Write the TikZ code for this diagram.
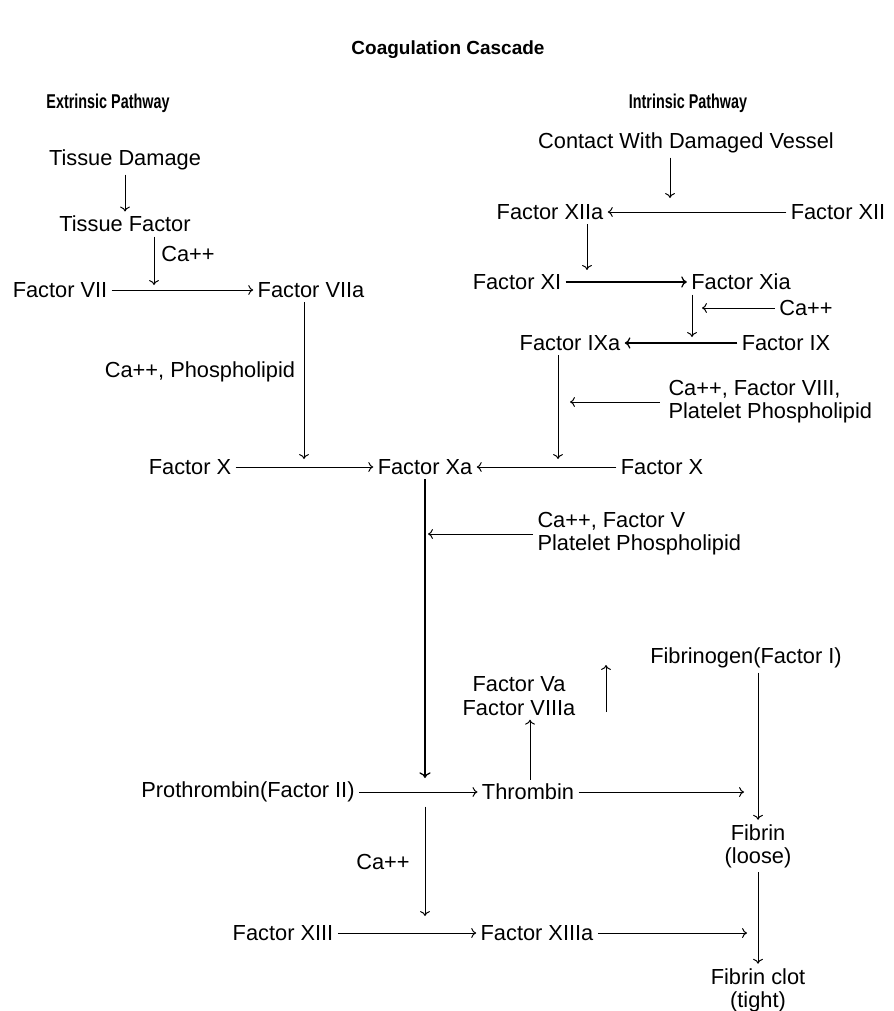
\documentclass[tikz,border=0pt]{standalone}
\usepackage{fontspec}
\setmainfont{Liberation Sans}
\newfontfamily\headfont{Liberation Sans}[FakeStretch=0.72]
\usetikzlibrary{arrows.meta}

\tikzset{
  fac/.style={font=\fontsize{15.5}{16.5}\selectfont, inner sep=3pt, align=center},
  head/.style={font=\headfont\bfseries\fontsize{14.2}{17}\selectfont},
  ar/.style={-{To[length=3.5pt, width=7pt]}, line width=0.7pt},
  thk/.style={-{To[length=4pt, width=8pt, line width=0.9pt]}, line width=1.8pt},
}

\begin{document}
\begin{tikzpicture}[x=0.025cm, y=-0.025cm]
\useasboundingbox (0,0) rectangle (893,1011);

% 标题
\node[font=\bfseries\fontsize{13.5}{16}\selectfont] (title) at (448,50) {Coagulation Cascade};
\node[head] (ext) at (108,103) {Extrinsic Pathway};
\node[head] (int) at (688,103) {Intrinsic Pathway};

% 外源性途径
\node[fac] (td) at (125,160) {Tissue Damage};
\node[fac] (tf) at (125,224) {Tissue Factor};
\node[fac] (ca1) at (188,254) {Ca++};
\node[fac] (f7) at (60,290) {Factor VII};
\node[fac] (f7a) at (311,290) {Factor VIIa};
\node[fac] (cap1) at (200,372) {Ca++, Phospholipid};
\coordinate (j1) at (154,285);
\coordinate (j2) at (304,459);
\draw[ar] (td) -- (tf);
\draw[ar] (tf.south -| j1) -- (j1);
\draw[ar] (f7) -- (f7a);
\draw[ar] (f7a.south -| j2) -- (j2);

% 内源性途径
\node[fac] (cdv) at (686,143) {Contact With Damaged Vessel};
\node[fac] (f12a) at (550,212) {Factor XIIa};
\node[fac] (f12) at (838,212) {Factor XII};
\node[fac] (f11) at (517,282) {Factor XI};
\node[fac] (f11a) at (741,282) {Factor Xia};
\node[fac] (ca2) at (806,308) {Ca++};
\node[fac] (f9a) at (570,343) {Factor IXa};
\node[fac] (f9) at (786,343) {Factor IX};
\node[fac, align=left, anchor=west] (cap2) at (664,402) {Ca++, Factor VIII,\\Platelet Phospholipid};
\coordinate (j3) at (670,198);
\coordinate (j4) at (692,337);
\coordinate (j5) at (702,308);
\coordinate (j6) at (558,459);
\coordinate (j7) at (570,402);
\draw[ar] (cdv.south -| j3) -- (j3);
\draw[ar] (f12) -- (f12a);
\draw[ar] (f12a.south -| 587,0) -- (f11.north -| 587,0);
\draw[thk] (f11) -- (f11a);
\draw[ar] (f11a.south -| j4) -- (j4);
\draw[ar] (ca2) -- (j5);
\draw[thk] (f9) -- (f9a);
\draw[ar] (f9a.south -| j6) -- (j6);
\draw[ar, shorten <=3pt] (cap2.west) -- (j7);

% 共同途径
\node[fac] (f10l) at (190,467) {Factor X};
\node[fac] (f10a) at (425,467) {Factor Xa};
\node[fac] (f10r) at (662,467) {Factor X};
\node[fac, align=left, anchor=west] (cap3) at (533,534) {Ca++, Factor V\\Platelet Phospholipid};
\coordinate (j8) at (425,778);
\coordinate (j9) at (428,534);
\draw[ar] (f10l) -- (f10a);
\draw[ar] (f10r) -- (f10a);
\draw[thk] (f10a.south) -- (j8);
\draw[ar] (cap3.west) -- (j9);

% 凝血酶与纤维蛋白
\node[fac] (f2) at (248,792) {Prothrombin(Factor II)};
\node[fac] (thr) at (528,792) {Thrombin};
\node[fac] (f5a) at (519,696) {Factor Va\\Factor VIIIa};
\node[fac] (fbg) at (746,658) {Fibrinogen(Factor I)};
\node[fac] (fbl) at (758,846) {Fibrin\\(loose)};
\node[fac] (fbt) at (758,990) {Fibrin clot\\(tight)};
\node[fac] (ca3) at (383,862) {Ca++};
\node[fac] (f13) at (283,933) {Factor XIII};
\node[fac] (f13a) at (537,933) {Factor XIIIa};
\coordinate (u1) at (606,712);
\coordinate (u2) at (606,665);
\coordinate (j10) at (744,792);
\coordinate (j11) at (425,916);
\coordinate (j12) at (747,933);
\draw[ar] (f2) -- (thr);
\draw[ar] (thr.north -| 530,0) -- (f5a.south -| 530,0);
\draw[ar] (u1) -- (u2);
\draw[ar] (thr) -- (j10);
\draw[ar] (fbg.south -| fbl) -- (fbl);
\draw[ar] (fbl) -- (fbt);
\draw[ar] (f2.south -| j11) -- (j11);
\draw[ar] (f13) -- (f13a);
\draw[ar] (f13a) -- (j12);

\end{tikzpicture}
\end{document}
